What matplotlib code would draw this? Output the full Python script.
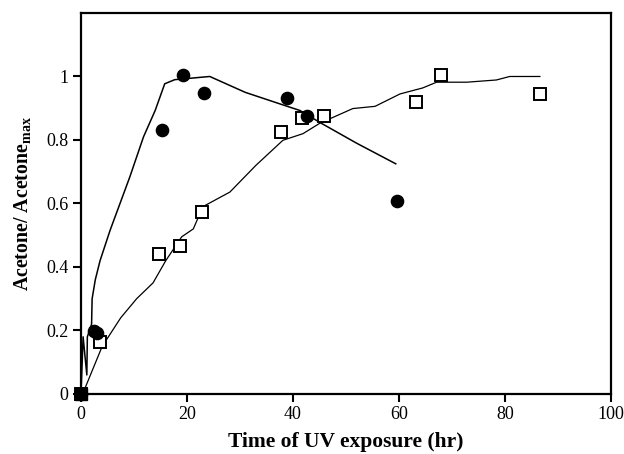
import matplotlib
matplotlib.use("Agg")
import matplotlib.pyplot as plt

plt.rcParams['font.family'] = ['Liberation Serif', 'DejaVu Serif']
plt.rcParams['mathtext.fontset'] = 'custom'
plt.rcParams['mathtext.rm'] = 'Liberation Serif:bold'
plt.rcParams['mathtext.bf'] = 'Liberation Serif:bold'

# Filled circles (measured)
circ_x = [0, 2.5, 3.1, 15.3, 19.2, 23.2, 38.9, 42.6, 59.6]
circ_y = [0, 0.197, 0.192, 0.833, 1.006, 0.947, 0.932, 0.874, 0.607]
# Open squares (measured)
sq_x = [0, 3.6, 14.7, 18.7, 22.8, 37.7, 41.7, 45.8, 63.2, 67.9, 86.6]
sq_y = [0, 0.164, 0.44, 0.466, 0.572, 0.824, 0.868, 0.874, 0.92, 1.006, 0.946]

# Model curve for circles
fitc_x = [0, 0.4, 1.1, 1.2, 2.0, 2.1, 2.7, 3.6, 5.5, 9.2, 11.8, 14.0, 15.8, 17.7,
          24.3, 31.0, 38.2, 41.3, 45.1, 52.0, 59.4]
fitc_y = [0, 0.18, 0.06, 0.18, 0.22, 0.30, 0.36, 0.42, 0.516, 0.683, 0.81, 0.893,
          0.977, 0.99, 1.0, 0.95, 0.91, 0.893, 0.855, 0.79, 0.725]
# Model curve for squares
fits_x = [0, 0.8, 4.0, 7.5, 10.5, 13.6, 16.0, 19.0, 21.2, 23.0, 28.1, 33.0, 38.1,
          41.9, 45.1, 51.3, 55.5, 60.2, 64.5, 67.1, 72.8, 78.4, 80.9, 86.6]
fits_y = [0, 0.02, 0.15, 0.24, 0.30, 0.35, 0.42, 0.495, 0.52, 0.59, 0.636, 0.72,
          0.799, 0.82, 0.853, 0.899, 0.906, 0.945, 0.964, 0.982, 0.982, 0.989, 1.0, 1.0]

xticks = [0, 20, 40, 60, 80, 100]
yticks = [0, 0.2, 0.4, 0.6, 0.8, 1.0]
ytick_labels = ['0', '0.2', '0.4', '0.6', '0.8', '1']

fig = plt.figure(figsize=(6.24, 4.54), dpi=100)
ax = fig.add_axes([0.1298, 0.1322, 0.8492, 0.8392])

ax.plot(fitc_x, fitc_y, color='black', lw=1.1, zorder=2)
ax.plot(fits_x, fits_y, color='black', lw=0.9, zorder=2)
ax.plot(sq_x, sq_y, linestyle='none', marker='s', markersize=8.5,
        markerfacecolor='white', markeredgecolor='black', markeredgewidth=1.4,
        zorder=3, clip_on=False)
ax.plot(circ_x, circ_y, linestyle='none', marker='o', markersize=8.8,
        markerfacecolor='black', markeredgecolor='black', zorder=4, clip_on=False)
# origin appears as a solid black square
ax.plot(sq_x[:1], sq_y[:1], linestyle='none', marker='s', markersize=8.5,
        color='black', zorder=5, clip_on=False)

ax.set_xlim(0, 100)
ax.set_ylim(0, 1.2)
ax.set_xticks(xticks)
ax.set_yticks(yticks)
ax.set_yticklabels(ytick_labels)
ax.tick_params(direction='out', length=6, width=1.5, labelsize=13, pad=3)
for s in ax.spines.values():
    s.set_linewidth(1.6)

ax.set_xlabel('Time of UV exposure (hr)', fontsize=15.5, fontweight='bold', labelpad=6)
ax.set_ylabel(r'Acetone/ Acetone$_{\mathbf{max}}$', fontsize=14.3, fontweight='bold', labelpad=9)

fig.savefig('out.png', dpi=100)
